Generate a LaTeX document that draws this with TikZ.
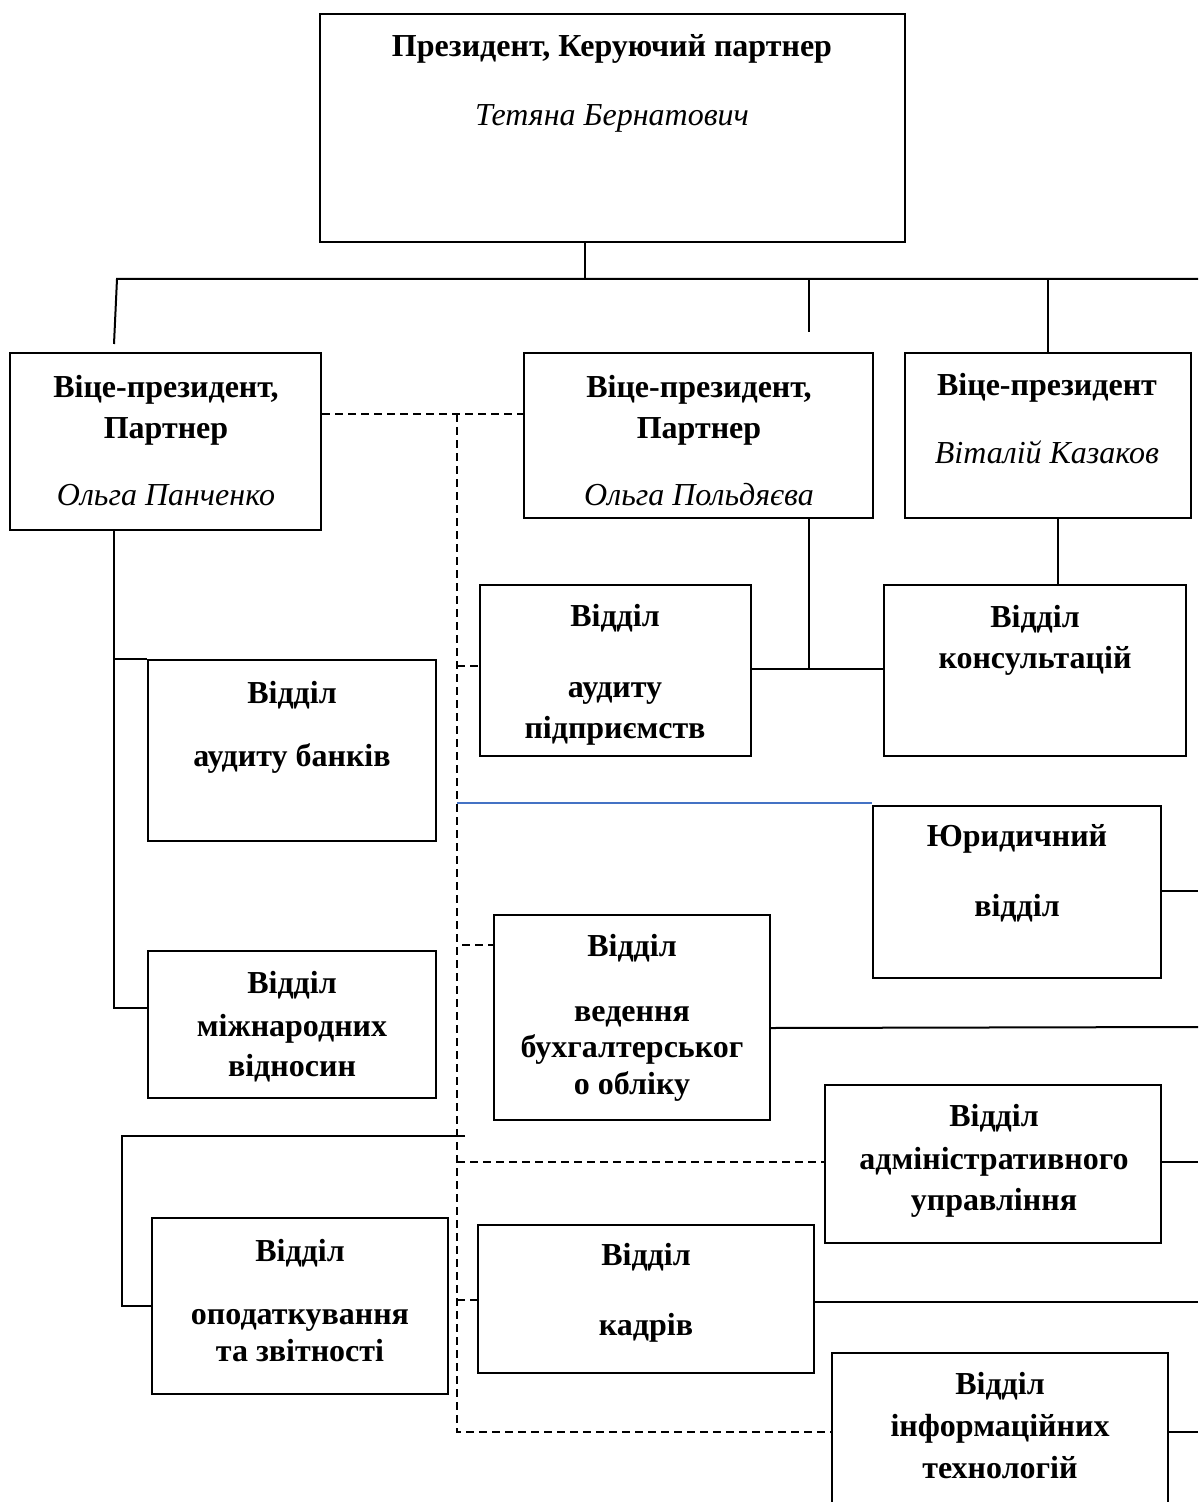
\documentclass[tikz,border=0pt]{standalone}
\usepackage{fontspec}
\setmainfont{Liberation Serif}
\usetikzlibrary{fit}
\definecolor{wordblue}{RGB}{68,114,196}
\begin{document}
\begin{tikzpicture}[x=0.5pt,y=-0.5pt,
  box/.style={draw, line width=1pt, inner sep=0pt, rectangle},
  ln/.style={line width=1pt},
  dl/.style={line width=0.9pt, dash pattern=on 4pt off 2.5pt},
  bt/.style={font=\fontsize{16}{19}\selectfont\bfseries, inner sep=0pt, text height=0.68em, text depth=0pt, yshift=-2.2pt},
  itx/.style={font=\fontsize{16}{19}\selectfont\itshape, inner sep=0pt, text height=0.68em, text depth=0pt, yshift=-2.2pt},
]
\useasboundingbox (0,0) rectangle (1198,1502);
\fill[white] (0,0) rectangle (1198,1502);
\begin{scope}
\clip (0,0) rectangle (1198,1502);
% boxes
\node[box, fit={(320,14) (905,242)}] (pres) {};
\node[box, fit={(10,353) (321,530)}] (vp1) {};
\node[box, fit={(524,353) (873,518)}] (vp2) {};
\node[box, fit={(905,353) (1191,518)}] (vp3) {};
\node[box, fit={(148,660) (436,841)}] (bank) {};
\node[box, fit={(148,951) (436,1098)}] (intl) {};
\node[box, fit={(480,585) (751,756)}] (ent) {};
\node[box, fit={(884,585) (1186,756)}] (cons) {};
\node[box, fit={(873,806) (1161,978)}] (law) {};
\node[box, fit={(494,915) (770,1120)}] (acc) {};
\node[box, fit={(825,1085) (1161,1243)}] (adm) {};
\node[box, fit={(152,1218) (448,1394)}] (tax) {};
\node[box, fit={(478,1225) (814,1373)}] (hr) {};
\node[box, fit={(832,1353) (1168,1580)}] (it) {};
% texts
\node[bt] (pres-a) at (612,45) {Президент, Керуючий партнер};
\node[itx] (pres-b) at (612,114) {Тетяна Бернатович};
\node[bt] (vp1-a) at (166,386) {Віце-президент,};
\node[bt] (vp1-b) at (166,427) {Партнер};
\node[itx] (vp1-c) at (166,494) {Ольга Панченко};
\node[bt] (vp2-a) at (699,386) {Віце-президент,};
\node[bt] (vp2-b) at (699,427) {Партнер};
\node[itx] (vp2-c) at (699,494) {Ольга Польдяєва};
\node[bt] (vp3-a) at (1047,384) {Віце-президент};
\node[itx] (vp3-b) at (1047,452) {Віталій Казаков};
\node[bt] (bank-a) at (292,692) {Відділ};
\node[bt] (bank-b) at (292,755) {аудиту банків};
\node[bt] (intl-a) at (292,982) {Відділ};
\node[bt] (intl-b) at (292,1025) {міжнародних};
\node[bt] (intl-c) at (292,1065) {відносин};
\node[bt] (ent-a) at (615,615) {Відділ};
\node[bt] (ent-b) at (615,686) {аудиту};
\node[bt] (ent-c) at (615,727) {підприємств};
\node[bt] (cons-a) at (1035,616) {Відділ};
\node[bt] (cons-b) at (1035,657) {консультацій};
\node[bt] (law-a) at (1017,835) {Юридичний};
\node[bt] (law-b) at (1017,905) {відділ};
\node[bt] (acc-a) at (632,945) {Відділ};
\node[bt] (acc-b) at (632,1010) {ведення};
\node[bt] (acc-c) at (632,1046) {бухгалтерськог};
\node[bt] (acc-d) at (632,1083) {о обліку};
\node[bt] (adm-a) at (994,1115) {Відділ};
\node[bt] (adm-b) at (994,1158) {адміністративного};
\node[bt] (adm-c) at (994,1199) {управління};
\node[bt] (tax-a) at (300,1250) {Відділ};
\node[bt] (tax-b) at (300,1313) {оподаткування};
\node[bt] (tax-c) at (300,1350) {та звітності};
\node[bt] (hr-a) at (646,1254) {Відділ};
\node[bt] (hr-b) at (646,1324) {кадрів};
\node[bt] (it-a) at (1000,1383) {Відділ};
\node[bt] (it-b) at (1000,1425) {інформаційних};
\node[bt] (it-c) at (1000,1467) {технологій};
% coordinates
\coordinate (bus) at (585,279);
\coordinate (busL) at (117,279);
\coordinate (busR) at (1198,279);
\coordinate (drop1) at (114,344);
\coordinate (drop2t) at (809,279);
\coordinate (drop2b) at (809,332);
\coordinate (dv) at (457,414);
\coordinate (dvb) at (457,1432);
\coordinate (rt) at (1198,0);
% solid connectors
\draw[ln] (pres.south -| bus) -- (bus);
\draw[ln] (drop1) -- (busL) -- (busR);
\draw[ln] (drop2t) -- (drop2b);
\draw[ln] (vp3.north) -- (vp3.north |- bus);
\draw[ln] (vp1.south -| drop1) -- (114,1008) -- (intl.west |- 0,1008);
\draw[ln] (bank.north west -| drop1) -- (bank.north west);
\draw[ln] (vp2.south -| drop2t) -- (809,669);
\draw[ln] (ent.east |- 0,669) -- (cons.west |- 0,669);
\draw[ln] (vp3.south -| 1058,0) -- (cons.north -| 1058,0);
\draw[ln] (law.east |- 0,891) -- (rt |- 0,891);
\draw[ln] (acc.east |- 0,1028) -- (rt |- 0,1027);
\draw[ln] (adm.east |- 0,1162) -- (rt |- 0,1162);
\draw[ln] (hr.east |- 0,1302) -- (rt |- 0,1302);
\draw[ln] (it.east |- 0,1432) -- (rt |- 0,1432);
\draw[ln] (465,1136) -- (122,1136) -- (122,1306) -- (tax.west |- 0,1306);
% dashed connectors
\draw[dl] (vp1.east |- dv) -- (vp2.west |- dv);
\draw[dl] (dv) -- (dvb) -- (it.west |- dvb);
\draw[dl] (dv |- 0,666) -- (ent.west |- 0,666);
\draw[dl] (462,945) -- (acc.west |- 0,945);
\draw[dl] (dv |- 0,1162) -- (adm.west |- 0,1162);
\draw[dl] (dv |- 0,1300) -- (hr.west |- 0,1300);
% blue line
\draw[wordblue, line width=0.6pt] (dv |- 0,803) -- (law.north west |- 0,803);
\end{scope}
\end{tikzpicture}
\end{document}
